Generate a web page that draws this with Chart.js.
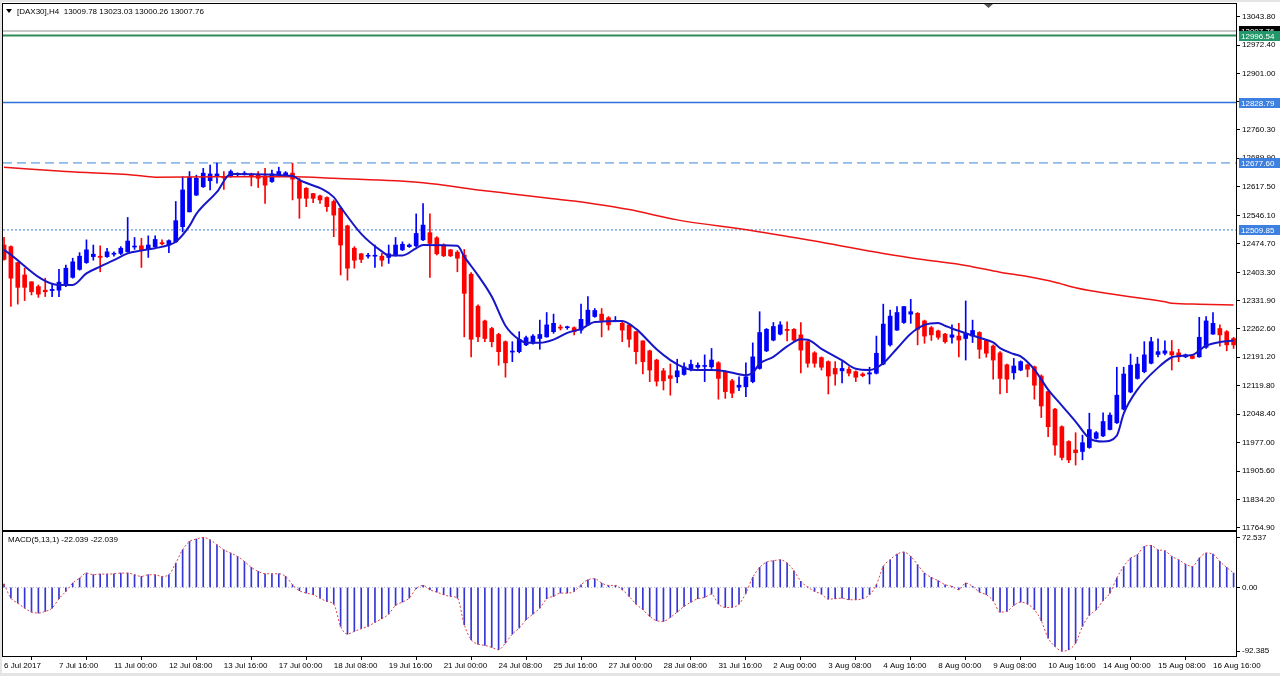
<!DOCTYPE html>
<html>
<head>
<meta charset="utf-8">
<script src="https://cdn.jsdelivr.net/npm/chart.js@4.4.1/dist/chart.umd.min.js"></script>
<style>
  html, body { margin: 0; padding: 0; background: #f0f0f0; }
  #wrap { position: relative; width: 1280px; height: 676px; overflow: hidden; }
  canvas { position: absolute; left: 0; }
  #price { top: 0; }
  #macd { top: 531px; }
</style>
</head>
<body>
<div id="wrap">
  <canvas id="price" width="1280" height="531"></canvas>
  <canvas id="macd" width="1280" height="145"></canvas>
</div>
<script>
// time labels, one every 8 H4 bars
var tickLabels = ["6 Jul 2017", "7 Jul 16:00", "11 Jul 00:00", "12 Jul 08:00", "13 Jul 16:00",
  "17 Jul 00:00", "18 Jul 08:00", "19 Jul 16:00", "21 Jul 00:00", "24 Jul 08:00", "25 Jul 16:00",
  "27 Jul 00:00", "28 Jul 08:00", "31 Jul 16:00", "2 Aug 00:00", "3 Aug 08:00", "4 Aug 16:00",
  "8 Aug 00:00", "9 Aug 08:00", "10 Aug 16:00", "14 Aug 00:00", "15 Aug 08:00", "16 Aug 16:00"];
var tickStep = 8;

// DAX30 H4 candles
var openP = [
  12472,12468,12428,12397,12380,12368,12359,12358,12359,12372,
  12391,12411,12428,12443,12444,12443,12449,12451,12455,12467,
  12470,12461,12468,12478,12472,12480,12518,12555,12597,12618,
  12633,12645,12643,12643,12649,12649,12650,12647,12645,12631,
  12647,12647,12652,12633,12614,12601,12595,12591,12581,12564,
  12520,12464,12450,12444,12444,12444,12441,12447,12460,12468,
  12470,12485,12503,12490,12472,12460,12454,12447,12399,12319,
  12282,12263,12248,12230,12204,12205,12222,12226,12238,12242,
  12255,12266,12265,12265,12259,12272,12293,12299,12290,12281,
  12276,12272,12255,12232,12207,12184,12157,12145,12142,12148,
  12161,12166,12168,12167,12177,12154,12132,12116,12117,12130,
  12163,12207,12234,12249,12261,12261,12247,12230,12202,12190,
  12180,12163,12157,12161,12155,12149,12149,12151,12174,12222,
  12259,12278,12299,12301,12282,12265,12257,12249,12241,12244,
  12238,12244,12253,12233,12219,12202,12172,12152,12159,12172,
  12167,12144,12105,12061,12017,11980,11959,11955,11965,11988,
  11994,12010,12027,12061,12104,12138,12155,12176,12198,12201,
  12205,12202,12192,12195,12192,12216,12249,12263,12255,12238];
var highP = [
  12491,12470,12429,12414,12380,12372,12389,12376,12411,12422,
  12439,12453,12485,12472,12470,12464,12455,12468,12541,12491,
  12489,12495,12495,12485,12485,12581,12643,12656,12647,12664,
  12672,12677,12656,12660,12653,12656,12652,12656,12664,12660,
  12667,12656,12677,12639,12616,12601,12597,12593,12585,12568,
  12522,12468,12451,12451,12472,12451,12472,12491,12480,12475,
  12550,12576,12550,12493,12475,12461,12458,12461,12403,12322,
  12284,12266,12251,12232,12230,12255,12244,12248,12284,12303,
  12299,12272,12269,12267,12324,12343,12313,12313,12293,12293,
  12283,12272,12255,12232,12209,12186,12163,12174,12186,12177,
  12184,12177,12197,12213,12180,12157,12136,12142,12177,12227,
  12305,12263,12278,12280,12280,12263,12278,12232,12205,12192,
  12182,12180,12180,12167,12157,12152,12166,12244,12324,12309,
  12318,12318,12336,12303,12284,12268,12259,12251,12272,12276,
  12332,12284,12255,12236,12222,12205,12174,12188,12182,12174,
  12169,12147,12107,12063,12019,11982,12002,11996,12051,12005,
  12052,12052,12166,12166,12199,12191,12230,12241,12237,12232,
  12233,12211,12199,12197,12291,12293,12303,12272,12258,12241];
var lowP = [
  12434,12318,12324,12333,12347,12341,12343,12343,12343,12368,
  12389,12409,12426,12434,12405,12441,12444,12448,12454,12461,
  12416,12441,12466,12472,12453,12478,12505,12555,12596,12616,
  12610,12627,12611,12642,12645,12647,12620,12616,12576,12629,
  12643,12645,12585,12539,12568,12578,12576,12556,12493,12397,
  12384,12414,12428,12439,12416,12419,12426,12444,12458,12466,
  12468,12483,12391,12447,12443,12443,12405,12242,12192,12230,
  12230,12217,12171,12141,12180,12202,12220,12224,12211,12241,
  12251,12259,12261,12247,12251,12270,12291,12242,12259,12280,
  12230,12216,12174,12149,12130,12119,12109,12096,12127,12146,
  12157,12163,12130,12163,12086,12088,12090,12107,12092,12127,
  12161,12205,12232,12247,12232,12230,12152,12166,12166,12159,
  12099,12121,12127,12144,12130,12142,12124,12149,12172,12219,
  12258,12276,12276,12222,12226,12233,12236,12226,12226,12192,
  12184,12228,12188,12191,12136,12099,12102,12136,12157,12142,
  12086,12040,11992,11946,11934,11927,11921,11934,11963,11986,
  11992,12009,12025,12059,12102,12136,12152,12174,12192,12197,
  12159,12180,12190,12187,12191,12213,12248,12219,12207,12213];
var closeP = [
  12436,12389,12366,12366,12355,12349,12355,12361,12379,12414,
  12430,12444,12460,12449,12441,12455,12451,12464,12482,12469,
  12460,12472,12486,12475,12483,12533,12610,12642,12639,12652,
  12650,12650,12640,12656,12651,12652,12645,12639,12622,12650,
  12656,12653,12637,12589,12589,12589,12585,12568,12547,12472,
  12414,12434,12436,12445,12445,12434,12450,12472,12474,12472,
  12501,12522,12476,12450,12445,12445,12439,12351,12236,12242,
  12238,12230,12205,12177,12206,12236,12240,12244,12248,12272,
  12276,12264,12267,12255,12286,12309,12308,12283,12272,12283,
  12259,12236,12205,12180,12159,12131,12132,12138,12157,12167,
  12173,12171,12170,12184,12138,12105,12101,12121,12142,12192,
  12253,12261,12268,12272,12258,12234,12209,12176,12176,12166,
  12144,12149,12163,12151,12141,12145,12152,12201,12274,12294,
  12303,12318,12305,12261,12244,12247,12241,12230,12247,12234,
  12251,12258,12211,12201,12184,12138,12136,12169,12180,12161,
  12121,12069,12017,11971,11940,11934,11952,11977,12010,12002,
  12030,12046,12096,12149,12171,12174,12197,12230,12205,12207,
  12197,12192,12197,12188,12241,12282,12276,12247,12222,12222];

// short moving average (blue), sampled at bar indexes
var maFastIdx = [0, 8, 10, 12, 14, 16, 18, 20, 22, 24, 25, 27, 28, 31, 33, 42, 43, 48, 49, 52,
  55, 56, 58, 60, 61, 66, 67, 69, 71, 73, 75, 76, 78, 80, 82, 84, 86, 90, 92, 95,
  97, 99, 100, 103, 105, 108, 109, 110, 112, 114, 116, 117, 119, 122, 124, 126, 128, 130, 132, 134,
  136, 137, 138, 140, 142, 144, 145, 147, 148, 150, 152, 154, 156, 158, 160, 162, 163, 165, 168, 170,
  171, 173, 175, 177, 179];
var maFastVal = [12460, 12372, 12372, 12401, 12418, 12434, 12451, 12458, 12464, 12472, 12480, 12520, 12550, 12605, 12650, 12645, 12635, 12592, 12567, 12500,
  12456, 12446, 12446, 12464, 12472, 12470, 12443, 12396, 12343, 12270, 12235, 12228, 12227, 12235, 12252, 12262, 12279, 12282, 12262, 12211,
  12184, 12165, 12160, 12159, 12156, 12146, 12152, 12175, 12192, 12218, 12236, 12235, 12212, 12183, 12162, 12159, 12176, 12213, 12250, 12272,
  12277, 12270, 12263, 12251, 12240, 12228, 12214, 12199, 12193, 12160, 12110, 12070, 12030, 11988, 11980, 11995, 12050, 12110, 12165, 12191,
  12194, 12197, 12220, 12229, 12233];

// long moving average (red)
var maSlowIdx = [0, 9, 19, 22, 31, 42, 48, 61, 69, 74, 79, 83, 86, 91, 98, 109, 119, 128, 134, 140,
  145, 149, 153, 156, 158, 161, 165, 169, 170, 174, 179];
var maSlowVal = [12667, 12656, 12647, 12642, 12643, 12643, 12639, 12628, 12610, 12600, 12590, 12582, 12575, 12561, 12535, 12508, 12479, 12451, 12435, 12421,
  12404, 12393, 12379, 12365, 12358, 12350, 12340, 12330, 12326, 12324, 12322];

// horizontal levels
var levelVals = [13007.76, 12996.54, 12828.79, 12677.60, 12509.85];

// price axis labels
var yTickVals = [13043.80, 12972.40, 12901.00, 12830.60, 12760.30, 12689.90, 12617.50, 12546.10,
  12474.70, 12403.30, 12331.90, 12262.60, 12191.20, 12119.80, 12048.40, 11977.00, 11905.60,
  11834.20, 11764.90];

// MACD(5,13,1) histogram
var macd = [
  4.8,-15.5,-22.7,-30,-35.8,-37.2,-34.8,-30,-16.4,-5.8,
  6.3,13.5,20.8,18.4,19.3,19.3,19.8,20.8,20.8,18.4,
  15.9,18.4,18.4,15.9,18.4,35.3,54.6,66.7,70.1,72.5,
  69.1,61.9,54.6,49.8,44.9,37.7,29,23.2,19.8,19.8,
  19.8,15.9,3.9,-4.8,-8.2,-10.6,-15.5,-20.3,-24.2,-56.5,
  -67.7,-63.8,-59.9,-56.5,-50.7,-45.4,-38.7,-26.1,-21.3,-15.5,
  -1.9,2.9,-3.4,-6.8,-10.6,-13,-15.5,-54.1,-75.9,-82.2,
  -84.1,-87,-90.4,-80.7,-67.7,-59,-46.9,-38.7,-30,-16.4,
  -13,-8.2,-8.2,-5.8,3.9,11.1,12.6,6.3,2.9,2.9,
  -3.4,-13,-24.2,-32.4,-42,-48.3,-49.3,-43.5,-35.8,-27.5,
  -21.3,-16.4,-14.5,-9.7,-24.2,-29,-29,-24.2,-8.2,14.5,
  29,36.7,38.7,40.1,35.3,24.2,8.7,0.5,-5.8,-9.7,
  -17,-16.4,-15.5,-17.9,-17.9,-16.4,-10.6,3.9,30.4,40.1,
  48.3,51.2,44.9,32.9,20.8,14.5,9.7,3.9,1.4,-3.4,
  6.3,1.4,-6.8,-10.6,-19.3,-35.8,-34.8,-26.1,-21.3,-24.2,
  -32.4,-48.3,-73.5,-85.5,-92.4,-90.4,-80.7,-56.5,-40.6,-32.4,
  -19.3,-8.2,13.5,30.4,42.5,47.4,59.4,60.9,54.6,53.2,
  44.9,40.1,33.8,30.4,42.5,49.8,48.3,37.7,29,20.8];
var macdTickVals = [72.537, 0, -92.385];
var macdTickText = ["72.537", "0.00", "-92.385"];

var FONT = { family: '"Liberation Sans", Arial, sans-serif', size: 8 };
var CSS_FONT = '8px "Liberation Sans", Arial, sans-serif';
var UP = "#0000ff", DOWN = "#ff0000";
var xMin = -0.15, xMax = 179.35;

Chart.defaults.font.family = FONT.family;
Chart.defaults.font.size = FONT.size;

function fixY(scale) { scale.width = 44; scale.paddingTop = 0; scale.paddingBottom = 0; }
function flat(v) { return [{ x: xMin, y: v }, { x: xMax, y: v }]; }

var bars = openP.map(function (_, i) { return i; });
var candleColors = bars.map(function (i) { return closeP[i] >= openP[i] ? UP : DOWN; });

// level line styles
var levelStyle = [
  { color: "#b4b4b4", width: 1.5, dash: [] },
  { color: "#2e8b57", width: 2, dash: [] },
  { color: "#2f6fdc", width: 1.5, dash: [] },
  { color: "#3c87d4", width: 1, dash: [9, 5] },
  { color: "#3c7fd8", width: 1, dash: [2, 2] }
];
var tagStyle = [
  { bg: "#000000", fg: "#ffffff" },
  { bg: "#23976a", fg: "#ffffff" },
  { bg: "#3d80e0", fg: "#ffffff" },
  { bg: "#3d80e0", fg: "#ffffff" },
  { bg: "#3d80e0", fg: "#ffffff" }
];

var priceFrame = {
  id: "priceFrame",
  beforeDraw: function (chart) {
    var ctx = chart.ctx;
    ctx.save();
    ctx.fillStyle = "#ffffff";
    ctx.fillRect(0, 0, chart.width, chart.height);
    ctx.fillStyle = "#e4e4e4";
    ctx.fillRect(0, 0, 2, chart.height);
    ctx.fillRect(0, 0, chart.width, 2);
    ctx.restore();
  },
  afterDraw: function (chart) {
    var ctx = chart.ctx, a = chart.chartArea, y = chart.scales.y;
    ctx.save();
    ctx.strokeStyle = "#000";
    ctx.lineWidth = 1;
    ctx.strokeRect(a.left - 0.5, a.top - 0.5, a.right - a.left + 1, a.bottom - a.top + 1);
    // header
    ctx.fillStyle = "#000";
    ctx.beginPath();
    ctx.moveTo(6, 9); ctx.lineTo(12, 9); ctx.lineTo(9, 13); ctx.closePath();
    ctx.fill();
    ctx.font = CSS_FONT;
    ctx.textBaseline = "middle";
    ctx.fillText("[DAX30],H4  13009.78 13023.03 13000.26 13007.76", 17, 11.5);
    // shift marker
    ctx.fillStyle = "#555";
    ctx.beginPath();
    ctx.moveTo(984, a.top); ctx.lineTo(993, a.top); ctx.lineTo(988.5, a.top + 4); ctx.closePath();
    ctx.fill();
    // price tags on the axis
    levelVals.forEach(function (v, j) {
      var py = Math.round(y.getPixelForValue(v));
      ctx.fillStyle = tagStyle[j].bg;
      ctx.fillRect(a.right + 3, py - 5, 41, 10);
      ctx.fillStyle = tagStyle[j].fg;
      ctx.fillText(v.toFixed(2), a.right + 5, py + 0.5);
    });
    ctx.restore();
  }
};

var levelSets = levelVals.map(function (v, j) {
  return {
    type: "line", data: flat(v), borderColor: levelStyle[j].color, borderWidth: levelStyle[j].width,
    borderDash: levelStyle[j].dash, pointRadius: 0, order: 6
  };
});

new Chart(document.getElementById("price"), {
  type: "bar",
  data: {
    datasets: levelSets.concat([
      {
        type: "bar", grouped: false, order: 4, barThickness: 1,
        data: bars.map(function (i) { return { x: i, y: [lowP[i], highP[i]] }; }),
        backgroundColor: candleColors
      },
      {
        type: "bar", grouped: false, order: 3, barThickness: 4, minBarLength: 1,
        data: bars.map(function (i) {
          return { x: i, y: [Math.min(openP[i], closeP[i]), Math.max(openP[i], closeP[i])] };
        }),
        backgroundColor: candleColors
      },
      {
        type: "line", order: 2, pointRadius: 0, borderColor: "#ee1414", borderWidth: 1.5,
        cubicInterpolationMode: "monotone",
        data: maSlowIdx.map(function (x, j) { return { x: x, y: maSlowVal[j] }; })
      },
      {
        type: "line", order: 1, pointRadius: 0, borderColor: "#1616c8", borderWidth: 2,
        cubicInterpolationMode: "monotone",
        data: maFastIdx.map(function (x, j) { return { x: x, y: maFastVal[j] }; })
      }
    ])
  },
  options: {
    responsive: false,
    animation: false,
    devicePixelRatio: 1,
    layout: { padding: { left: 3, top: 4, right: 0, bottom: 1 } },
    plugins: { legend: { display: false }, tooltip: { enabled: false } },
    scales: {
      x: { type: "linear", display: false, min: xMin, max: xMax, offset: false },
      y: {
        position: "right", min: 11758.4, max: 13075.6,
        afterBuildTicks: function (s) { s.ticks = yTickVals.map(function (v) { return { value: v }; }); },
        afterFit: fixY,
        grid: { drawOnChartArea: false, tickLength: 4, color: "#000" },
        border: { color: "#000" },
        ticks: { padding: 2, color: "#000", font: FONT, callback: function (v) { return v.toFixed(2); } }
      }
    }
  },
  plugins: [priceFrame]
});

var macdFrame = {
  id: "macdFrame",
  beforeDraw: function (chart) {
    var ctx = chart.ctx;
    ctx.save();
    ctx.fillStyle = "#ffffff";
    ctx.fillRect(0, 0, chart.width, chart.height);
    ctx.fillStyle = "#e4e4e4";
    ctx.fillRect(0, 0, 2, chart.height);
    ctx.fillRect(0, chart.height - 3, chart.width, 3);
    ctx.restore();
  },
  afterDraw: function (chart) {
    var ctx = chart.ctx, a = chart.chartArea;
    ctx.save();
    ctx.strokeStyle = "#000";
    ctx.lineWidth = 1;
    ctx.strokeRect(a.left - 0.5, a.top - 0.5, a.right - a.left + 1, a.bottom - a.top + 1);
    ctx.fillStyle = "#000";
    ctx.font = CSS_FONT;
    ctx.textBaseline = "middle";
    ctx.fillText("MACD(5,13,1) -22.039 -22.039", 8, a.top + 8);
    ctx.restore();
  }
};

new Chart(document.getElementById("macd"), {
  type: "bar",
  data: {
    datasets: [
      {
        type: "line", order: 3, data: flat(0), borderColor: "#b8b8cc", borderWidth: 1,
        borderDash: [1, 2], pointRadius: 0
      },
      {
        type: "bar", order: 2, grouped: false, barThickness: 1,
        data: bars.map(function (i) { return { x: i, y: macd[i] }; }),
        backgroundColor: "#3434d8"
      },
      {
        // signal line, period 1 (follows the histogram)
        type: "line", order: 1, pointRadius: 0, borderColor: "#e04545", borderWidth: 1,
        borderDash: [2, 2], cubicInterpolationMode: "monotone",
        data: bars.map(function (i) { return { x: i, y: macd[i] }; })
      }
    ]
  },
  options: {
    responsive: false,
    animation: false,
    devicePixelRatio: 1,
    layout: { padding: { left: 3, top: 1, right: 0, bottom: 0 } },
    plugins: { legend: { display: false }, tooltip: { enabled: false } },
    scales: {
      x: {
        type: "linear", min: xMin, max: xMax, offset: false,
        afterBuildTicks: function (s) { s.ticks = tickLabels.map(function (_, j) { return { value: j * tickStep }; }); },
        afterFit: function (s) { s.height = 20; s.paddingLeft = 0; s.paddingRight = 0; },
        grid: { drawOnChartArea: false, tickLength: 4, color: "#000" },
        border: { color: "#000" },
        ticks: {
          align: "start", maxRotation: 0, autoSkip: false, padding: 1, color: "#000", font: FONT,
          callback: function (v, j) { return tickLabels[j]; }
        }
      },
      y: {
        position: "right", min: -99.5, max: 80.4,
        afterBuildTicks: function (s) { s.ticks = macdTickVals.map(function (v) { return { value: v }; }); },
        afterFit: fixY,
        grid: { drawOnChartArea: false, tickLength: 4, color: "#000" },
        border: { color: "#000" },
        ticks: { padding: 2, color: "#000", font: FONT, callback: function (v, j) { return macdTickText[j]; } }
      }
    }
  },
  plugins: [macdFrame]
});
</script>
</body>
</html>
